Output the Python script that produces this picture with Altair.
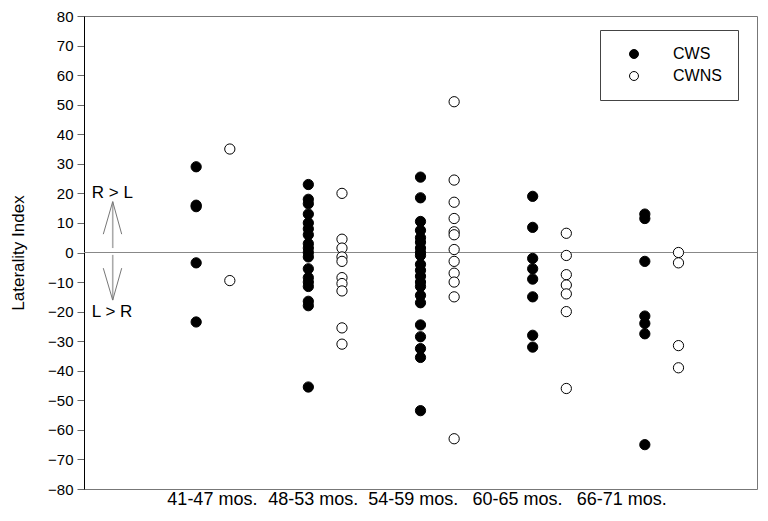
import altair as alt
import pandas as pd

# ---- data ----
groups = ["41-47 mos.", "48-53 mos.", "54-59 mos.", "60-65 mos.", "66-71 mos."]
series = ["CWS", "CWNS"]

cws = [
    [29, 16, 15.5, -3.5, -23.5],
    [23, 18, 16.5, 13, 10, 8, 6, 3, 1.5, 0, -1.5, -5.5, -8.5, -10, -11.5, -16.5, -18, -45.5],
    [25.5, 18.5, 10.5, 7.5, 5, 3.5, 1.5, 0, -1, -4, -6, -8, -10, -11.5, -14.5, -17, -24.5, -28.5, -32.5, -35.5, -53.5],
    [19, 8.5, -2, -5.5, -9, -15, -28, -32],
    [13, 11.5, -3, -21.5, -24, -27.5, -65],
]
cwns = [
    [35, -9.5],
    [20, 4.5, 1.5, -1.5, -3, -8.5, -10.5, -13, -25.5, -31],
    [51, 24.5, 17, 11.5, 7, 6, 1, -3, -7, -10, -15, -63],
    [6.5, -1, -7.5, -11, -14, -20, -46],
    [0, -3.5, -31.5, -39],
]

# series offset within a group (in group units)
series_offset = {"CWS": 0.0, "CWNS": 0.3}
# where the category labels sit along the x axis (group units)
label_pos = [1.14, 2.04, 2.93, 3.86, 4.79]
y_ticks = list(range(-80, 81, 10))

# annotation arrows (data units)
arrow_x = [0.172, 0.256, 0.336]
arrow_up = [6.2, 17.2, 1.5]     # head side y, tip y, tail y
arrow_down = [-5.3, -16.1, -0.8]

# ---- build tables ----
rows = []
for gi, g in enumerate(groups):
    for name, vals in (("CWS", cws[gi]), ("CWNS", cwns[gi])):
        for v in vals:
            rows.append({"group": g, "series": name, "x": gi + 1 + series_offset[name], "value": v})
df = pd.DataFrame(rows)

arrows = []
for key, a in (("up", arrow_up), ("down", arrow_down)):
    arrows += [
        {"seg": key + "_head", "o": 0, "x": arrow_x[0], "y": a[0]},
        {"seg": key + "_head", "o": 1, "x": arrow_x[1], "y": a[1]},
        {"seg": key + "_head", "o": 2, "x": arrow_x[2], "y": a[0]},
    ]
shafts = []
for key, a in (("up", arrow_up), ("down", arrow_down)):
    shafts += [
        {"seg": key + "_shaft", "o": 0, "x": arrow_x[1], "y": a[1]},
        {"seg": key + "_shaft", "o": 1, "x": arrow_x[1], "y": a[2]},
    ]
arrows_df = pd.DataFrame(arrows)
shafts_df = pd.DataFrame(shafts)

notes_df = pd.DataFrame({"x": [0.07, 0.07], "y": [20, -20], "t": ["R > L", "L > R"]})

FONT = "Liberation Sans"

label_arr = "[" + ",".join("'%s'" % g for g in groups) + "]"
pos_arr = "[" + ",".join(str(p) for p in label_pos) + "]"

xscale = alt.Scale(domain=[0, 6], nice=False, zero=False)
yscale = alt.Scale(domain=[-80, 80], nice=False)

x_axis = alt.Axis(values=label_pos, title=None, ticks=False, domain=False, grid=False,
                  labelExpr=label_arr + "[indexof(" + pos_arr + ", datum.value)]",
                  labelFont=FONT, labelFontSize=18, labelColor="black", labelPadding=1,
                  labelOverlap=False)
y_axis = alt.Axis(values=y_ticks, title="Laterality Index", grid=False,
                  domainColor="black", tickColor="#666", tickSize=7,
                  labelFont=FONT, labelFontSize=15, labelColor="black", labelPadding=4,
                  labelOverlap=False,
                  titleFont=FONT, titleFontSize=17, titleFontWeight="normal",
                  titleColor="black", titlePadding=20)

points = alt.Chart(df).mark_point(shape="circle", filled=False, size=105, strokeWidth=1,
                                  opacity=1).encode(
    x=alt.X("x:Q", scale=xscale, axis=x_axis),
    y=alt.Y("value:Q", scale=yscale, axis=y_axis),
    fill=alt.Fill("series:N", scale=alt.Scale(domain=series, range=["black", "white"]),
                  legend=alt.Legend(title=None, orient="none", legendX=516, legendY=14,
                                    padding=16, strokeColor="#444", fillColor="white",
                                    symbolType="circle", symbolSize=80,
                                    symbolStrokeColor="black", symbolStrokeWidth=1,
                                    symbolOffset=10, labelOffset=31, rowPadding=6,
                                    labelFont=FONT, labelFontSize=16, labelColor="black")),
    stroke=alt.value("black"),
)

zero = alt.Chart(pd.DataFrame({"y": [0]})).mark_rule(color="#888", strokeWidth=1).encode(
    y=alt.Y("y:Q", scale=yscale, axis=y_axis)
)

arrow_heads = alt.Chart(arrows_df).mark_line(color="#777", strokeWidth=1).encode(
    x=alt.X("x:Q", scale=xscale, axis=x_axis),
    y=alt.Y("y:Q", scale=yscale, axis=y_axis),
    detail="seg:N",
    order="o:Q",
)
arrow_shafts = alt.Chart(shafts_df).mark_line(color="#aaa", strokeWidth=1.6).encode(
    x=alt.X("x:Q", scale=xscale, axis=x_axis),
    y=alt.Y("y:Q", scale=yscale, axis=y_axis),
    detail="seg:N",
    order="o:Q",
)

notes = alt.Chart(notes_df).mark_text(align="left", baseline="middle", font=FONT, fontSize=17,
                                       color="black").encode(
    x=alt.X("x:Q", scale=xscale, axis=x_axis),
    y=alt.Y("y:Q", scale=yscale, axis=y_axis),
    text="t:N",
)

chart = alt.layer(zero, arrow_shafts, arrow_heads, notes, points).properties(
    width=673, height=473,
    autosize=alt.AutoSizeParams(type="none"),
    padding={"left": 76, "top": 8, "right": 3, "bottom": 24},
    background="white",
).configure_view(stroke="#777", strokeWidth=1)

chart.save("out.html", embed_options={"renderer": "svg", "actions": False})
